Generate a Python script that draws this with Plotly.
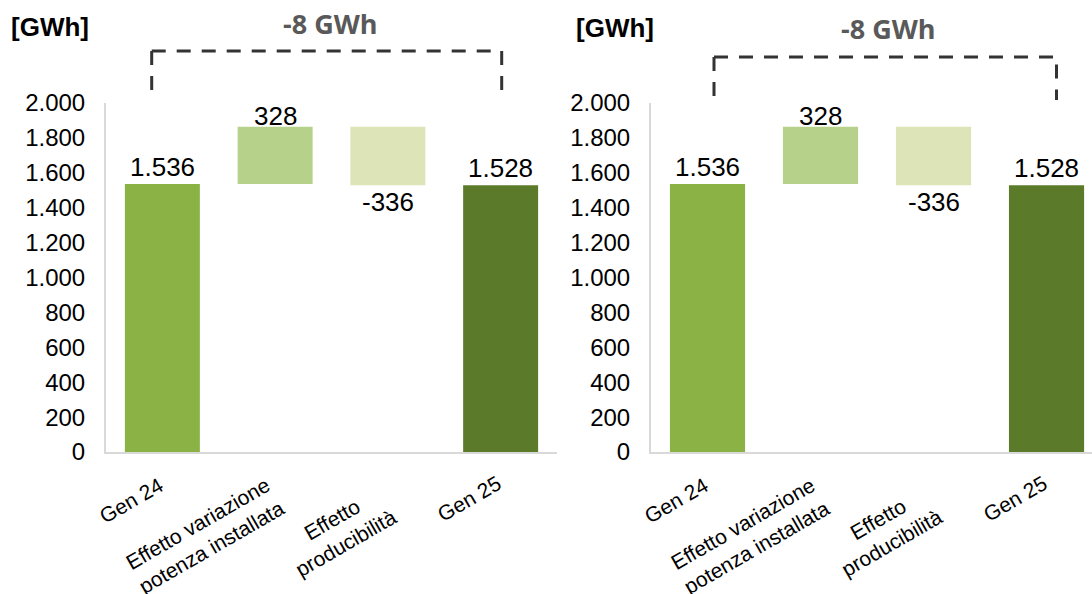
import plotly.graph_objects as go

# ---- data ----
categories = ["Gen 24", "Effetto variazione<br>potenza installata", "Effetto<br>producibilità", "Gen 25"]
start_value = 1536
effect_power = 328
effect_producibility = -336
end_value = 1528
unit_label = "[GWh]"
y_ticks = [0, 200, 400, 600, 800, 1000, 1200, 1400, 1600, 1800, 2000]

deltas = [start_value, effect_power, effect_producibility, end_value]
bases = [0, start_value, start_value + effect_power, 0]
colors = ["#8AB245", "#B6D28A", "#DDE4B8", "#5B7B2B"]

def it_fmt(v):
    return f"{v:,}".replace(",", ".")

bar_text = [it_fmt(v) for v in deltas]
bar_ends = [b + d for b, d in zip(bases, deltas)]
diff_text = f"{end_value - start_value} GWh"

W, H = 1092, 594
def px(x):
    return x / W
def py(y):
    return 1 - y / H

FONT = "Liberation Sans, Arial, sans-serif"
fig = go.Figure()

panels = [
    dict(xa="x", ya="y", dom=[px(106), px(557)], rng=[-0.5, 3.5],
         bracket=(151.7, 501.7, 51, 97), diff=(330, 23.5), unit=(9, 27.5)),
    dict(xa="x2", ya="y2", dom=[px(651), 1.0], rng=[-0.5, 3.5 - 11 / 112.75],
         bracket=(714, 1056.5, 57, 100), diff=(888, 28.5), unit=(574, 28)),
]

# (xshift px, top y px) of the rotated category labels
label_offsets = [(7, 471), (16, 470), (15, 479), (7, 469)]
# vertical nudge of value labels (px)
value_label_shift = [0, -6, 0, 0]

shapes = []
annotations = []
for i, p in enumerate(panels):
    fig.add_trace(go.Bar(
        x=categories, y=deltas, base=bases,
        marker=dict(color=colors, line=dict(width=0)),
        width=0.665, xaxis=p["xa"], yaxis=p["ya"], showlegend=False,
        hoverinfo="skip",
    ))
    sfx = "" if i == 0 else "2"
    fig.update_layout(**{
        "xaxis" + sfx: dict(domain=p["dom"], range=p["rng"], showline=True,
                            linecolor="#D9D9D9", linewidth=2, showgrid=False,
                            zeroline=False, showticklabels=False, ticks="",
                            anchor="y" + sfx, fixedrange=True, automargin=False),
        "yaxis" + sfx: dict(domain=[py(452), py(103)], range=[0, 2000],
                            tickvals=y_ticks, tickformat=",d", showline=True,
                            linecolor="#D9D9D9", linewidth=2, showgrid=False,
                            zeroline=False, ticks="", ticklabelstandoff=14,
                            tickfont=dict(family=FONT, size=24, color="#000000"),
                            anchor="x" + sfx, fixedrange=True, automargin=False),
    })
    # value labels
    for c, txt, end, d, sh in zip(categories, bar_text, bar_ends, deltas, value_label_shift):
        annotations.append(dict(text=txt, xref=p["xa"], yref=p["ya"], x=c, y=end,
                                xanchor="center", yanchor="bottom" if d >= 0 else "top",
                                yshift=sh, showarrow=False,
                                font=dict(family=FONT, size=26, color="#000000")))
    x1, x2, yt, yb = p["bracket"]
    line = dict(color="#333333", width=3, dash="14px,11px")
    shapes.append(dict(type="path", xref="paper", yref="paper",
                       path=f"M {px(x1)},{py(yt)} L {px(x1)},{py(yb)}", line=line))
    shapes.append(dict(type="path", xref="paper", yref="paper",
                       path=f"M {px(x1)},{py(yt)} L {px(x2)},{py(yt)} L {px(x2)},{py(yb)}",
                       line=line))
    annotations.append(dict(text=f"<b>{diff_text}</b>", xref="paper", yref="paper",
                            x=px(p["diff"][0]), y=py(p["diff"][1]),
                            xanchor="center", yanchor="middle", showarrow=False,
                            font=dict(family="Open Sans, sans-serif", size=27, color="#595959")))
    annotations.append(dict(text=f"<b>{unit_label}</b>", xref="paper", yref="paper",
                            x=px(p["unit"][0]), y=py(p["unit"][1]),
                            xanchor="left", yanchor="middle", showarrow=False,
                            font=dict(family=FONT, size=26, color="#000000")))
    for c, (dx, ty) in zip(categories, label_offsets):
        annotations.append(dict(text=c, xref=p["xa"], yref="paper", x=c, xshift=dx,
                                y=py(ty), xanchor="right", yanchor="top",
                                textangle=-30, showarrow=False, align="center",
                                font=dict(family=FONT, size=21, color="#000000")))

fig.update_layout(
    width=W, height=H, margin=dict(l=0, r=0, t=0, b=0, pad=0, autoexpand=False),
    paper_bgcolor="#FFFFFF", plot_bgcolor="#FFFFFF",
    separators=",.", bargap=0.335, shapes=shapes, annotations=annotations,
    font=dict(family=FONT),
)

fig.write_html("out.html", config={"displayModeBar": False},
               post_script="document.body.style.margin='0';document.body.style.overflow='hidden';")
